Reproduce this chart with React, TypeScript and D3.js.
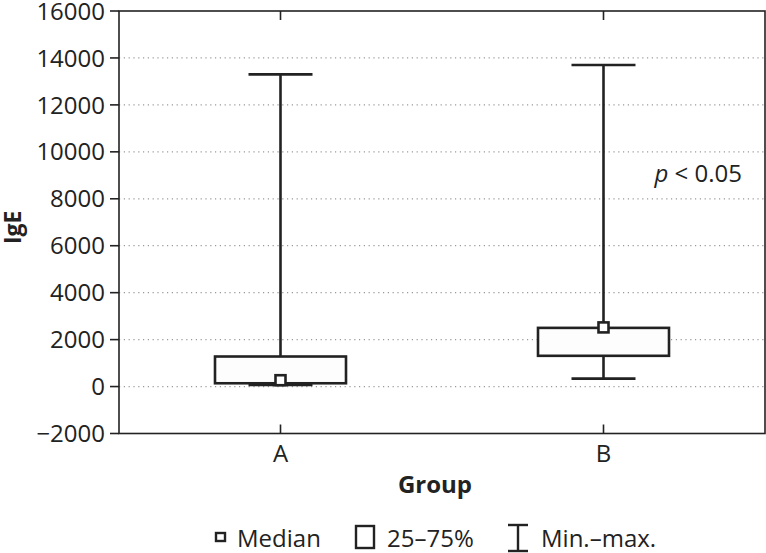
import React from "react";
import * as d3 from "d3";

const groups = ["A", "B"];
const minVals = [70, 340];
const q1Vals = [140, 1310];
const medianVals = [270, 2520];
const q3Vals = [1280, 2500];
const maxVals = [13300, 13700];
const yTicks = [-2000, 0, 2000, 4000, 6000, 8000, 10000, 12000, 14000, 16000];

const W = 766;
const H = 553;
const left = 119;
const right = 765;
const top = 11;
const bottom = 433.5;
const FONT = "'Open Sans', 'Noto Sans', sans-serif";
const INK = "#222";

export default function App() {
  const y = d3.scaleLinear().domain([-2000, 16000]).range([bottom, top]);
  const x = d3.scaleBand().domain(groups).range([left, right]).paddingInner(0.6).paddingOuter(0.3);
  const bw = 131;
  const capW = 64;
  const cx = (g: string) => (x(g) as number) + x.bandwidth() / 2;

  return (
    <div style={{ position: "absolute", left: 0, top: 0 }}>
      <svg width={W} height={H} style={{ display: "block" }} fontFamily={FONT}>
        <rect x={0} y={0} width={W} height={H} fill="#fff" />
        {/* grid */}
        {yTicks.filter((t) => t !== -2000 && t !== 16000).map((t) => (
          <line key={"g" + t} x1={left} x2={right} y1={y(t)} y2={y(t)} stroke="#999" strokeWidth={1.2} strokeDasharray="1.2 3.6" />
        ))}
        {/* boxes */}
        {groups.map((g, i) => {
          const c = cx(g);
          return (
            <g key={g} stroke={INK} strokeWidth={2.6} fill="none">
              <line x1={c} x2={c} y1={y(maxVals[i])} y2={y(Math.max(q3Vals[i], q1Vals[i]))} />
              <line x1={c} x2={c} y1={y(minVals[i])} y2={y(Math.min(q3Vals[i], q1Vals[i]))} />
              <line x1={c - capW / 2} x2={c + capW / 2} y1={y(maxVals[i])} y2={y(maxVals[i])} />
              <line x1={c - capW / 2} x2={c + capW / 2} y1={y(minVals[i])} y2={y(minVals[i])} />
              <rect x={c - bw / 2} width={bw} y={y(Math.max(q1Vals[i], q3Vals[i]))} height={Math.abs(y(q1Vals[i]) - y(q3Vals[i]))} fill="#fdfdfd" />
              <rect x={c - 5} y={y(medianVals[i]) - 5} width={10} height={10} fill="#fff" />
            </g>
          );
        })}
        {/* frame */}
        <rect x={left} y={top} width={right - left} height={bottom - top} fill="none" stroke={INK} strokeWidth={1.6} />
        {/* y ticks */}
        {yTicks.map((t) => (
          <g key={"t" + t}>
            <line x1={left - 9} x2={left} y1={y(t)} y2={y(t)} stroke={INK} strokeWidth={1.6} />
            <text x={left - 14} y={y(t)} dy="0.36em" textAnchor="end" fontSize={24} fill={INK}>
              {t < 0 ? "\u2212" + Math.abs(t) : String(t)}
            </text>
          </g>
        ))}
        {/* x ticks */}
        {groups.map((g) => (
          <g key={"x" + g}>
            <line x1={cx(g)} x2={cx(g)} y1={bottom} y2={bottom - 9} stroke={INK} strokeWidth={1.6} />
            <line x1={cx(g)} x2={cx(g)} y1={top} y2={top + 9} stroke={INK} strokeWidth={1.6} />
            <text x={cx(g)} y={462} textAnchor="middle" fontSize={24} fill={INK}>{g}</text>
          </g>
        ))}
        <text x={742} y={182} textAnchor="end" fontSize={24} fill={INK}>
          <tspan fontStyle="italic">p</tspan> &lt; 0.05
        </text>
        <text x={435} y={493} textAnchor="middle" fontSize={24} fontWeight="bold" fill={INK}>Group</text>
        <text transform={`translate(21,${(top + bottom) / 2 + 5}) rotate(-90)`} textAnchor="middle" fontSize={23} fontWeight="bold" fill={INK}>IgE</text>
        {/* legend */}
        <g stroke={INK} strokeWidth={2.4} fill="none">
          <rect x={216} y={533} width={9} height={8} />
          <rect x={356} y={526} width={18} height={22} />
          <line x1={518} x2={518} y1={525} y2={551} />
          <line x1={508} x2={528} y1={525} y2={525} />
          <line x1={508} x2={528} y1={551} y2={551} />
        </g>
        <text x={237} y={547} fontSize={24} fill={INK}>Median</text>
        <text x={387} y={547} fontSize={24} fill={INK}>25–75%</text>
        <text x={541} y={547} fontSize={24} fill={INK}>Min.–max.</text>
      </svg>
    </div>
  );
}
